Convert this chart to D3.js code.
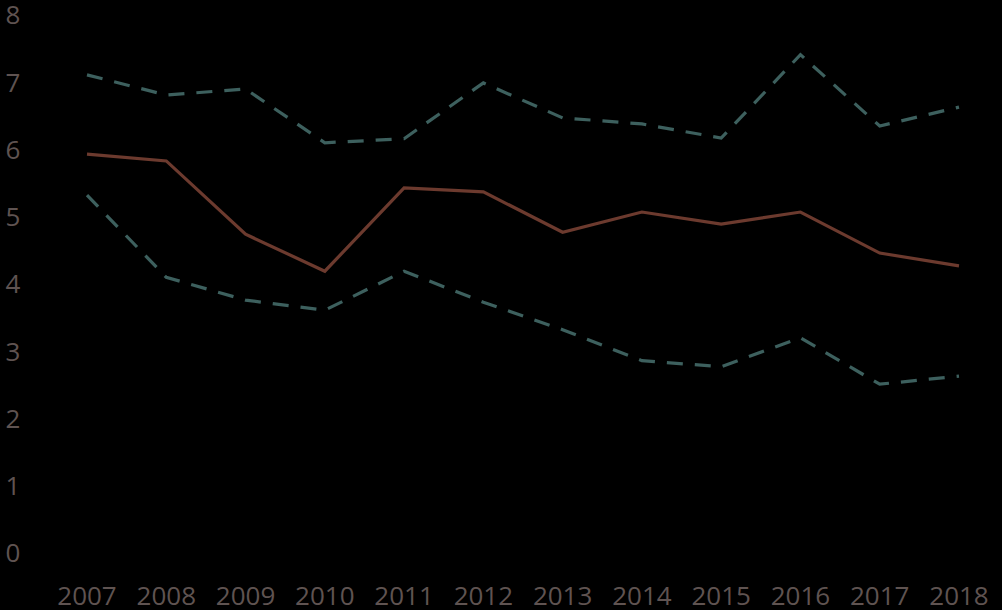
<!DOCTYPE html>
<html>
<head>
<meta charset="utf-8">
<script src="https://cdn.jsdelivr.net/npm/d3@7"></script>
<style>
  body { margin: 0; background: #000; }
  svg { display: block; }
</style>
</head>
<body>
<svg></svg>
<script>
var years = ["2007", "2008", "2009", "2010", "2011", "2012", "2013", "2014", "2015", "2016", "2017", "2018"];
var middle = [5.93, 5.83, 4.74, 4.19, 5.43, 5.37, 4.77, 5.07, 4.89, 5.07, 4.46, 4.27];
var upper = [7.11, 6.81, 6.90, 6.10, 6.16, 6.99, 6.47, 6.38, 6.17, 7.41, 6.35, 6.63];
var lower = [5.32, 4.10, 3.76, 3.61, 4.19, 3.73, 3.32, 2.86, 2.77, 3.20, 2.51, 2.63];
var yTicks = [0, 1, 2, 3, 4, 5, 6, 7, 8];

var width = 1002;
var height = 610;

var svg = d3.select("svg")
  .attr("width", width)
  .attr("height", height)
  .style("background", "#000");

var x = d3.scalePoint().domain(years).range([87, 959]);
var y = d3.scaleLinear().domain([0, 8]).range([553, 15]);

var textColor = "#5f5351";

// y labels, centred on their value
svg.append("g")
  .selectAll("text")
  .data(yTicks)
  .enter()
  .append("text")
  .attr("x", 13)
  .attr("y", (d) => y(d))
  .attr("dy", "0.36em")
  .attr("text-anchor", "middle")
  .attr("fill", textColor)
  .style("font-family", "'Open Sans', sans-serif")
  .style("font-size", "26px")
  .text((d) => d);

// x labels
svg.append("g")
  .selectAll("text")
  .data(years)
  .enter()
  .append("text")
  .attr("x", (d) => x(d))
  .attr("y", 596)
  .attr("dy", "0.36em")
  .attr("text-anchor", "middle")
  .attr("fill", textColor)
  .style("font-family", "'Open Sans', sans-serif")
  .style("font-size", "26px")
  .text((d) => d);

var line = d3.line()
  .x((d, i) => x(years[i]))
  .y((d) => y(d));

svg.append("path")
  .datum(upper)
  .attr("fill", "none")
  .attr("stroke", "#3d605e")
  .attr("stroke-width", 3.2)
  .attr("stroke-dasharray", "16,12")
  .attr("d", line);

svg.append("path")
  .datum(lower)
  .attr("fill", "none")
  .attr("stroke", "#3d605e")
  .attr("stroke-width", 3.2)
  .attr("stroke-dasharray", "16,12")
  .attr("d", line);

svg.append("path")
  .datum(middle)
  .attr("fill", "none")
  .attr("stroke", "#6c3a2e")
  .attr("stroke-width", 3.2)
  .attr("d", line);
</script>
</body>
</html>
